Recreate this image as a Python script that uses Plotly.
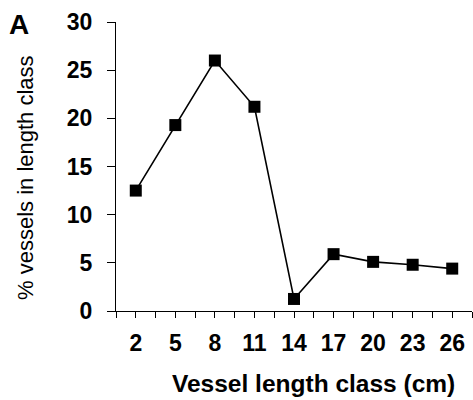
import plotly.graph_objects as go

# Vessel length classes (cm) and share of vessels in each class (%)
length_class = [2, 5, 8, 11, 14, 17, 20, 23, 26]
pct_vessels = [12.5, 19.3, 26.0, 21.2, 1.25, 5.9, 5.1, 4.8, 4.4]
y_ticks = [0, 5, 10, 15, 20, 25, 30]

W, H = 473, 400
L, R, T, B = 116, 1, 22, 89
pw, ph = W - L - R, H - T - B

def px_x(x):
    return (x - L) / pw

def px_y(y):
    return (H - B - y) / ph

FONT = "Liberation Sans, Arial, sans-serif"

fig = go.Figure(
    go.Scatter(
        x=length_class,
        y=pct_vessels,
        mode="lines+markers",
        line=dict(color="black", width=1.6),
        marker=dict(symbol="square", size=12, color="black"),
        cliponaxis=False,
    )
)

fig.update_layout(
    width=W,
    height=H,
    margin=dict(l=L, r=R, t=T, b=B),
    plot_bgcolor="white",
    paper_bgcolor="white",
    showlegend=False,
    font=dict(family=FONT, color="black"),
)

fig.update_xaxes(
    range=[0.5, 27.5],
    tickvals=length_class,
    ticktext=[str(v) for v in length_class],
    ticks="outside",
    ticklen=6,
    tickwidth=1.2,
    tickcolor="black",
    minor=dict(tick0=0.5, dtick=3, ticks="outside", ticklen=6, tickwidth=1.2, tickcolor="black"),
    showline=True,
    linecolor="black",
    linewidth=1.3,
    showgrid=False,
    zeroline=False,
    tickfont=dict(family=FONT, size=23, weight="bold", color="black"),
    ticklabelstandoff=5,
)

fig.update_yaxes(
    range=[0, 30],
    tickvals=y_ticks,
    ticks="outside",
    ticklen=8,
    tickwidth=1.2,
    tickcolor="black",
    showline=True,
    linecolor="black",
    linewidth=1.3,
    showgrid=False,
    zeroline=False,
    tickfont=dict(family=FONT, size=23, weight="bold", color="black"),
    ticklabelstandoff=10,
)

fig.add_annotation(
    text="Vessel length class (cm)",
    xref="paper", yref="paper",
    x=px_x(313), y=px_y(383),
    xanchor="center", yanchor="middle",
    showarrow=False,
    font=dict(family=FONT, size=24.5, weight="bold", color="black"),
)

fig.add_annotation(
    text="% vessels in length class",
    xref="paper", yref="paper",
    x=px_x(25), y=px_y(178),
    xanchor="center", yanchor="middle",
    textangle=-90,
    showarrow=False,
    font=dict(family=FONT, size=22, color="black"),
)

fig.add_annotation(
    text="A",
    xref="paper", yref="paper",
    x=px_x(7), y=px_y(24),
    xanchor="left", yanchor="middle",
    showarrow=False,
    font=dict(family=FONT, size=28, weight="bold", color="black"),
)

fig.write_html("out.html")
